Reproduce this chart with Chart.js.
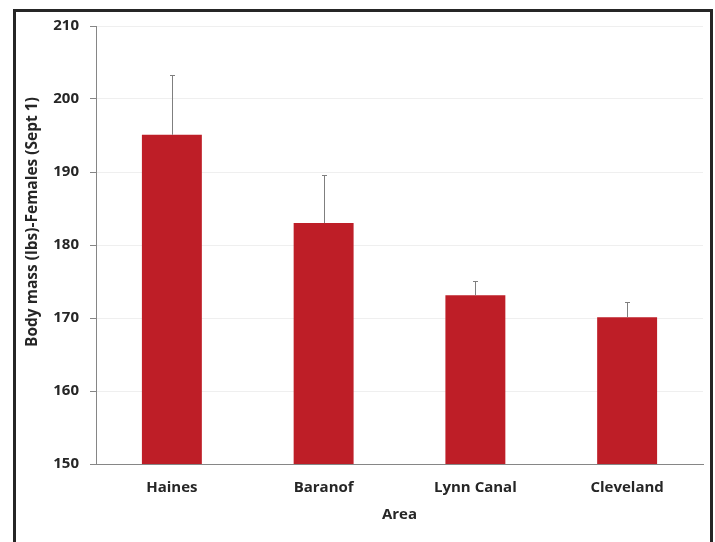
<!DOCTYPE html>
<html>
<head>
<meta charset="utf-8">
<script src="https://cdn.jsdelivr.net/npm/chart.js@4"></script>
<style>
  html, body { margin: 0; padding: 0; background: #fff; }
  #wrap { position: relative; width: 715px; height: 542px; overflow: hidden; }
  #frame { position: absolute; left: 13px; top: 9px; width: 694px; height: 560px; border: 3px solid #262626; pointer-events: none; }
  canvas { position: absolute; left: 0; top: 0; }
</style>
</head>
<body>
<div id="wrap">
  <canvas id="c" width="715" height="542"></canvas>
  <div id="frame"></div>
</div>
<script>
const categories = ["Haines", "Baranof", "Lynn Canal", "Cleveland"];
const bodyMass = [195.1, 183.0, 173.1, 170.1];
const upperError = [8.2, 6.6, 2.0, 2.1];
const yTicks = [150, 160, 170, 180, 190, 200, 210];
const yTitle = 'Body mass (lbs)-Females (Sept 1)';
const xTitle = 'Area';

const textColor = '#262626';
const fontFamily = "'Open Sans', 'Liberation Sans', sans-serif";

const errorBarPlugin = {
  id: 'errorBars',
  afterDatasetsDraw(chart) {
    const ctx = chart.ctx;
    const meta = chart.getDatasetMeta(0);
    const y = chart.scales.y;
    ctx.save();
    ctx.strokeStyle = '#7f7f7f';
    ctx.lineWidth = 1;
    meta.data.forEach((bar, i) => {
      const x = Math.round(bar.x) + 0.5;
      const yTop = Math.round(y.getPixelForValue(bodyMass[i] + upperError[i])) + 0.5;
      const yBase = y.getPixelForValue(bodyMass[i]);
      ctx.beginPath();
      ctx.moveTo(x, yBase);
      ctx.lineTo(x, yTop);
      ctx.moveTo(x - 2.5, yTop);
      ctx.lineTo(x + 2.5, yTop);
      ctx.stroke();
    });
    ctx.restore();
  }
};

// Y-axis title, drawn rotated (positioned as in the reference, slightly above the plot centre)
const yTitlePlugin = {
  id: 'yTitle',
  afterDraw(chart) {
    const ctx = chart.ctx;
    ctx.save();
    ctx.translate(33, 222);
    ctx.rotate(-Math.PI / 2);
    ctx.fillStyle = textColor;
    ctx.font = "bold 15.5px " + fontFamily;
    ctx.textAlign = 'center';
    ctx.textBaseline = 'middle';
    ctx.fillText(yTitle, 0, 0);
    ctx.restore();
  }
};

new Chart(document.getElementById('c'), {
  type: 'bar',
  data: {
    labels: categories,
    datasets: [{
      data: bodyMass,
      backgroundColor: '#BE1E27',
      borderWidth: 0,
      categoryPercentage: 1,
      barPercentage: 0.395
    }]
  },
  options: {
    responsive: false,
    animation: false,
    events: [],
    layout: { padding: { left: 0, right: 12, top: 26, bottom: 0 } },
    plugins: { legend: { display: false }, tooltip: { enabled: false } },
    scales: {
      x: {
        grid: { display: false, drawTicks: false },
        border: { display: true, color: '#868686', width: 1 },
        ticks: {
          color: textColor,
          padding: 15,
          font: { family: fontFamily, size: 15, weight: 'bold' }
        },
        title: {
          display: true,
          text: xTitle,
          color: textColor,
          padding: { top: 0, bottom: 18 },
          font: { family: fontFamily, size: 15, weight: 'bold' }
        },
        afterFit(scale) { scale.height = 78; }
      },
      y: {
        min: 150,
        max: 210,
        afterBuildTicks(scale) { scale.ticks = yTicks.map(v => ({ value: v })); },
        grid: {
          color: '#efefef',
          lineWidth: 1,
          drawTicks: true,
          tickLength: 6,
          tickColor: '#868686'
        },
        border: { display: true, color: '#868686', width: 1 },
        ticks: {
          color: textColor,
          padding: 11,
          font: { family: fontFamily, size: 15, weight: 'bold' }
        },
        title: { display: false },
        afterFit(scale) { scale.width = 96; }
      }
    }
  },
  plugins: [errorBarPlugin, yTitlePlugin]
});
</script>
</body>
</html>
